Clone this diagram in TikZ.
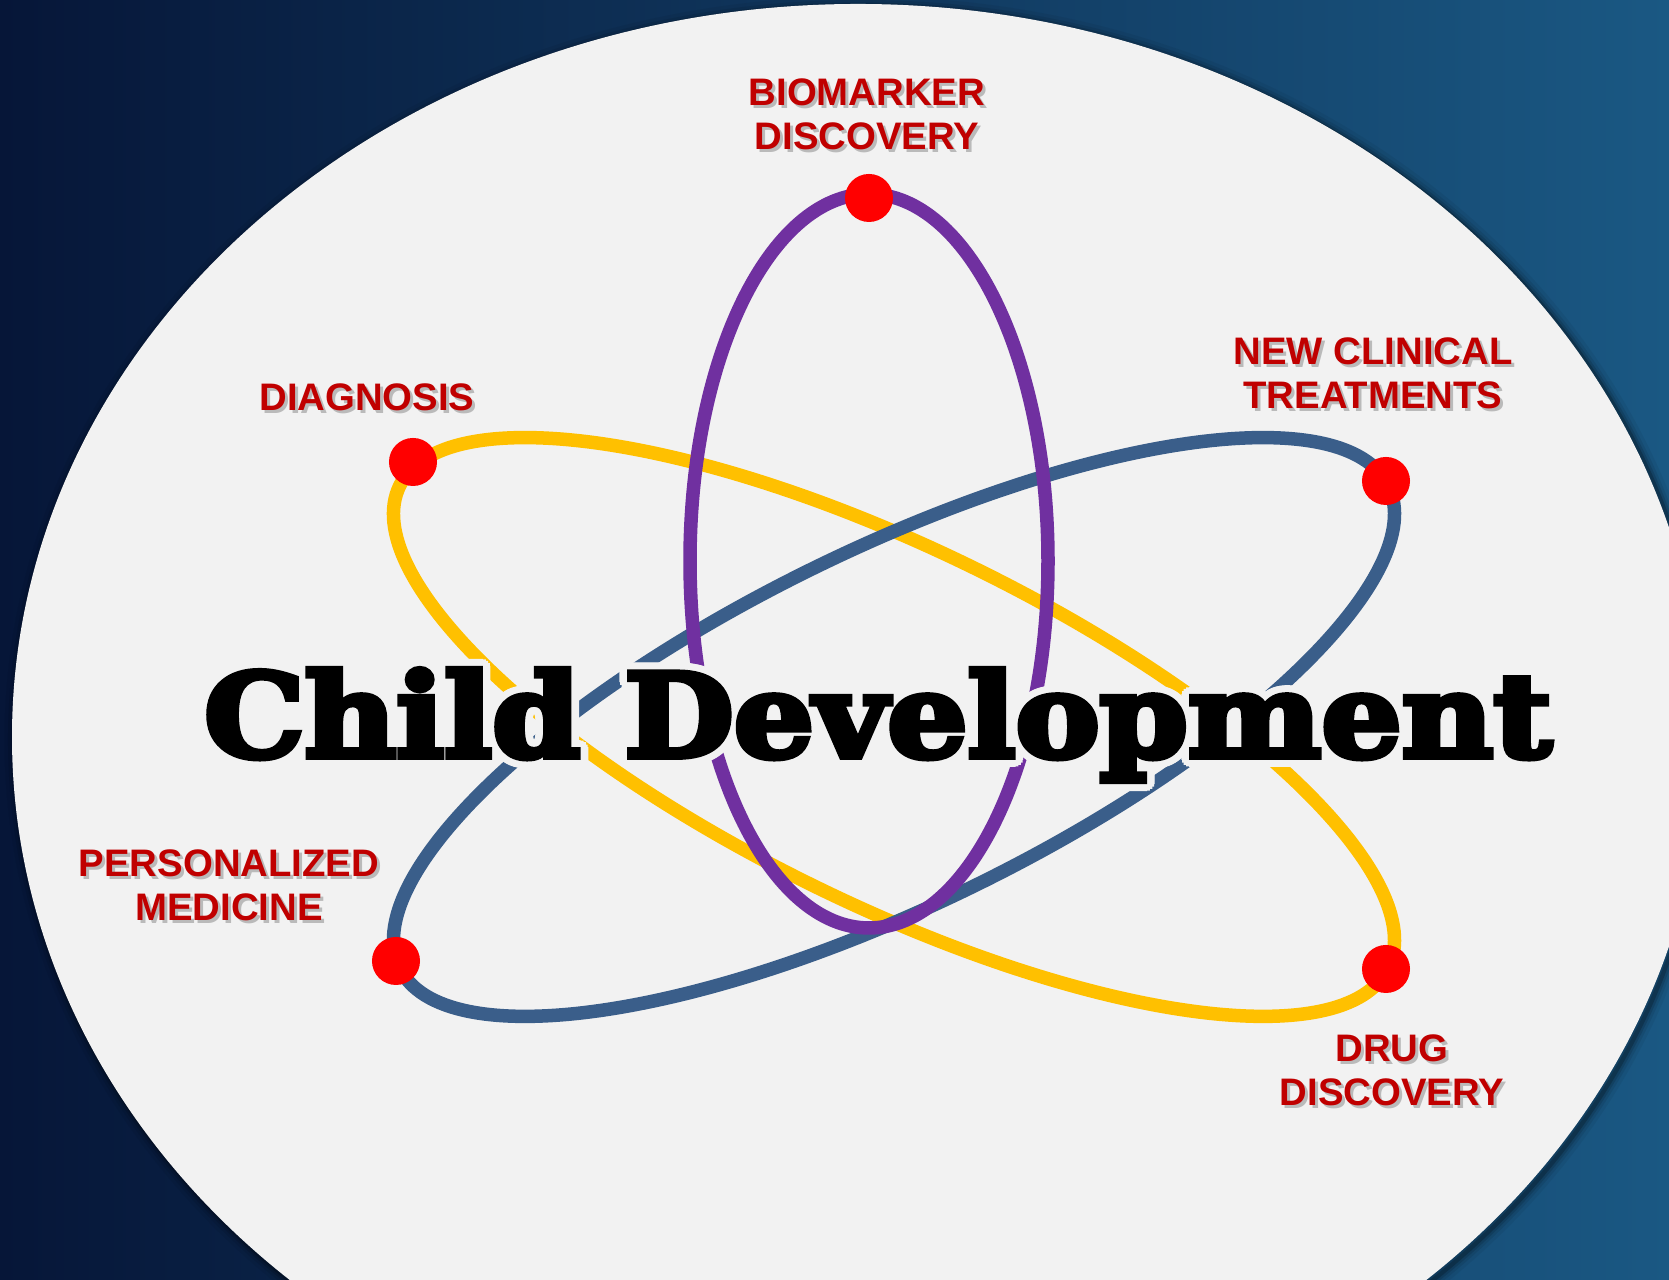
\documentclass[tikz,border=0pt]{standalone}
\usepackage{fontspec}
\setmainfont{Liberation Sans}
\newfontfamily\titlefont{DejaVu Serif Bold}[FakeBold=5]
\usepackage{contour}
\contourlength{2pt}

\definecolor{bgleft}{HTML}{061638}
\definecolor{bgright}{HTML}{1A5883}
\definecolor{paper}{HTML}{F2F2F2}
\definecolor{orbitpurple}{HTML}{7030A0}
\definecolor{orbitblue}{HTML}{3A5E8A}
\definecolor{orbityellow}{HTML}{FFC000}
\definecolor{topicred}{HTML}{C00000}

\tikzset{
	orbit/.style={line width=0.135cm},
	electron/.style={circle, fill=red, minimum size=0.48cm, inner sep=0pt},
	topic/.style={font=\bfseries\fontsize{10.9}{12.6}\selectfont, align=center, text=topicred, inner sep=0pt},
	topicshadow/.style={topic, text=black!45, text opacity=0.55}
}

\begin{document}
\begin{tikzpicture}[x=0.01cm, y=0.01cm]
	\useasboundingbox (0,0) rectangle (1669,1280);
	\shade [left color=bgleft, right color=bgright] (0,0) rectangle (1669,1280);

	% light backdrop with soft edge
	\begin{scope}
		\clip (0,0) rectangle (1669,1280);
		\foreach \w/\o in {6/0.05, 4/0.08, 2.5/0.12, 1.2/0.2}
			\draw [black, opacity=\o, line width=\w pt] (861,540) ellipse [x radius=846, y radius=733];
		\fill [paper] (858,543) ellipse [x radius=846, y radius=733];
	\end{scope}

	\coordinate (core) at (894,553);
	\coordinate (vcore) at (869,719);

	% orbits
	\draw [orbit, orbityellow, rotate around={-26:(core)}] (core) ellipse [x radius=550, y radius=178];
	\draw [orbit, orbitblue, rotate around={26:(core)}] (core) ellipse [x radius=550, y radius=178];
	\draw [orbit, orbitpurple] (vcore) ellipse [x radius=179, y radius=367];

	\node (eBio) [electron] at (869,1082) {};
	\node (eDiag) [electron] at (413,818) {};
	\node (eClin) [electron] at (1386,799) {};
	\node (ePers) [electron] at (396,319) {};
	\node (eDrug) [electron] at (1386,311) {};

	% topics
	\node (tBioS) [topicshadow] at (870,1163) {BIOMARKER\\DISCOVERY};
	\node (tBio) [topic] at (867,1166) {BIOMARKER\\DISCOVERY};
	\node (tDiagS) [topicshadow] at (370,880) {DIAGNOSIS};
	\node (tDiag) [topic] at (367,883) {DIAGNOSIS};
	\node (tClinS) [topicshadow] at (1376,904) {NEW CLINICAL\\TREATMENTS};
	\node (tClin) [topic] at (1373,907) {NEW CLINICAL\\TREATMENTS};
	\node (tPersS) [topicshadow] at (232,392) {PERSONALIZED\\MEDICINE};
	\node (tPers) [topic] at (229,395) {PERSONALIZED\\MEDICINE};
	\node (tDrugS) [topicshadow] at (1395,207) {DRUG\\DISCOVERY};
	\node (tDrug) [topic] at (1392,210) {DRUG\\DISCOVERY};

	\node (title) [anchor=base, inner sep=0pt] at (878,523)
		{\resizebox{13.47cm}{\height}{\titlefont\fontsize{33}{36}\selectfont\contour{paper}{Child Development}}};
\end{tikzpicture}
\end{document}
